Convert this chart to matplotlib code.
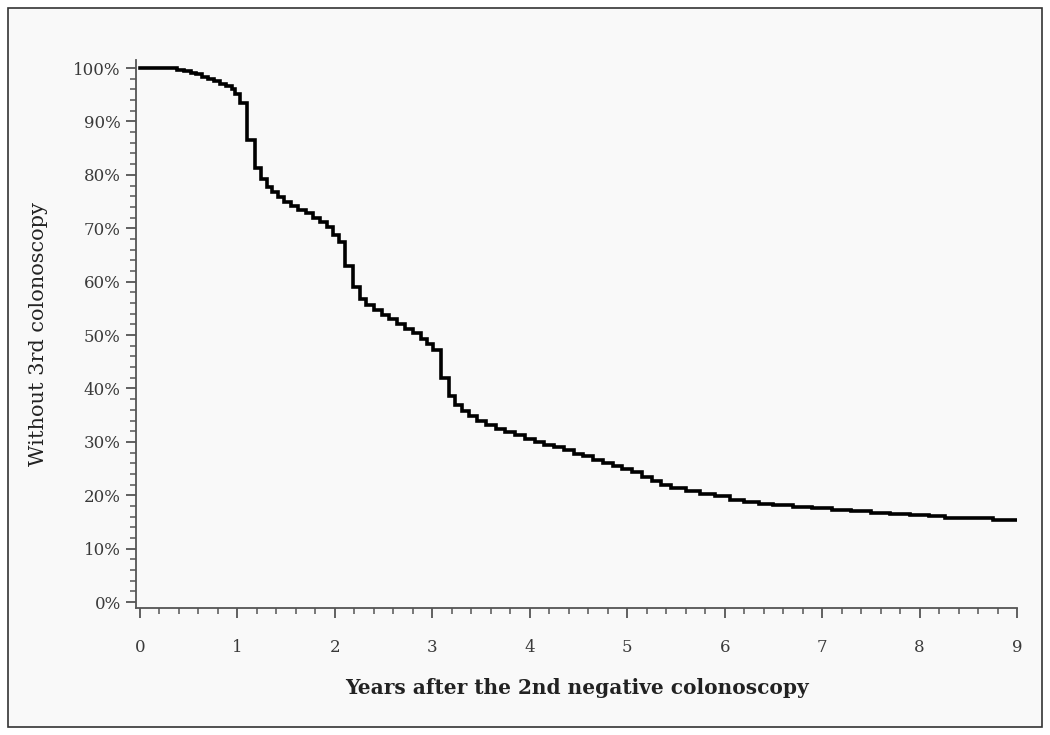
import matplotlib
matplotlib.use('Agg')
import matplotlib.pyplot as plt
from matplotlib.patches import Rectangle
from matplotlib.ticker import MultipleLocator, FuncFormatter

# Kaplan-Meier style curve (years, % without 3rd colonoscopy)
years = [0, 0.38, 0.45, 0.52, 0.58, 0.64, 0.70, 0.76, 0.82, 0.88, 0.94, 0.98,
         1.03, 1.10, 1.18, 1.24, 1.30, 1.36, 1.42, 1.48, 1.55, 1.62, 1.70, 1.78,
         1.85, 1.92, 1.98, 2.04, 2.10, 2.19, 2.26, 2.32, 2.40, 2.48, 2.56, 2.64,
         2.72, 2.80, 2.88, 2.95, 3.01, 3.09, 3.17, 3.23, 3.30, 3.38, 3.46, 3.55,
         3.65, 3.75, 3.85, 3.95, 4.05, 4.15, 4.25, 4.35, 4.45, 4.55, 4.65, 4.75,
         4.85, 4.95, 5.05, 5.15, 5.25, 5.35, 5.45, 5.60, 5.75, 5.90, 6.05, 6.20,
         6.35, 6.50, 6.70, 6.90, 7.10, 7.30, 7.50, 7.70, 7.90, 8.10, 8.26, 8.75, 9.0]
pct = [100, 99.7, 99.4, 99.1, 98.8, 98.4, 98.0, 97.6, 97.1, 96.6, 96.0, 95.2,
       93.5, 86.5, 81.3, 79.2, 77.8, 76.8, 75.9, 75.0, 74.2, 73.5, 72.8, 72.0,
       71.1, 70.2, 68.8, 67.4, 63.0, 59.0, 56.8, 55.6, 54.7, 53.8, 53.0, 52.1,
       51.2, 50.3, 49.3, 48.3, 47.2, 42.0, 38.6, 37.0, 35.8, 34.8, 34.0, 33.2,
       32.5, 31.8, 31.2, 30.6, 30.0, 29.5, 29.0, 28.4, 27.8, 27.3, 26.7, 26.1,
       25.5, 24.9, 24.3, 23.5, 22.7, 22.0, 21.4, 20.8, 20.3, 19.8, 19.2, 18.7,
       18.4, 18.2, 17.9, 17.6, 17.3, 17.0, 16.7, 16.5, 16.3, 16.1, 15.8, 15.3, 15.3]

x_ticks = list(range(0, 10))
y_ticks = list(range(0, 101, 10))

plt.rcParams['font.family'] = ['DejaVu Serif']

fig = plt.figure(figsize=(10.5, 7.35), dpi=100)
fig.patch.set_facecolor('white')
# outer frame of the figure
frame = Rectangle((8 / 1050, 8 / 735), 1034 / 1050, 719 / 735,
                  transform=fig.transFigure, facecolor='#f9f9f9',
                  edgecolor='#333333', linewidth=1.2, zorder=-10)
fig.patches.append(frame)

ax = fig.add_axes([136 / 1050, 1 - 608 / 735, 881 / 1050, 548 / 735])
ax.set_zorder(5)
ax.set_facecolor('none')
ax.step(years, pct, where='post', color='black', linewidth=2.6, solid_joinstyle='miter')

ax.set_xlim(-0.04, 9.0)
ax.set_ylim(-1.1, 101.5)
ax.set_xticks(x_ticks)
ax.set_yticks(y_ticks)
ax.xaxis.set_minor_locator(MultipleLocator(0.2))
ax.yaxis.set_minor_locator(MultipleLocator(2))
ax.yaxis.set_major_formatter(FuncFormatter(lambda v, p: '%d%%' % v))

for s in ['top', 'right']:
    ax.spines[s].set_visible(False)
for s in ['left', 'bottom']:
    ax.spines[s].set_color('#555555')
    ax.spines[s].set_linewidth(1.3)

ax.tick_params(which='major', direction='out', length=7, width=1.3, color='#555555',
               labelsize=12, labelcolor='#3a3a3a')
ax.tick_params(axis='x', which='major', pad=15)
ax.tick_params(axis='y', which='major', pad=4)
ax.tick_params(which='minor', direction='out', length=4, width=1.1, color='#555555')

ax.set_xlabel('Years after the 2nd negative colonoscopy', fontsize=14.5,
              fontweight='bold', color='#222222', labelpad=16)
ax.set_ylabel('Without 3rd colonoscopy', fontsize=15, color='#222222', labelpad=18)

fig.savefig('out.png', dpi=100)
